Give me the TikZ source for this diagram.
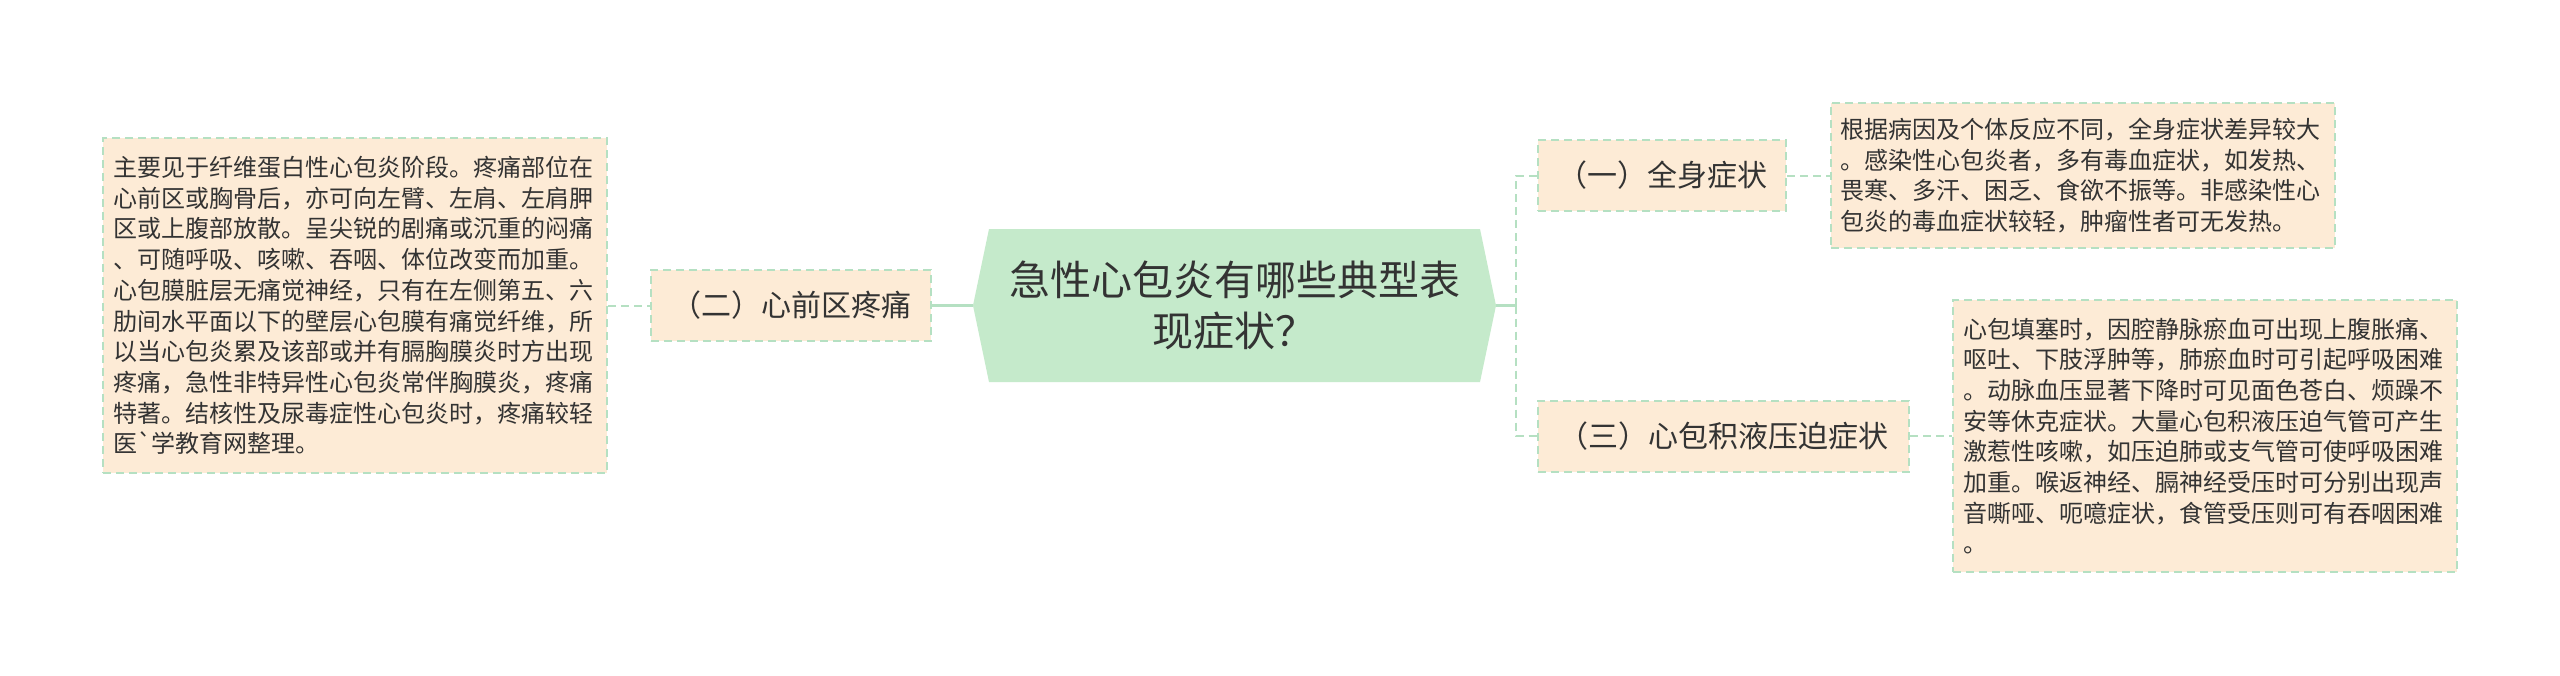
\documentclass[tikz,border=0pt]{standalone}
\usepackage{fontspec}
\setmainfont{Noto Sans CJK SC}
\definecolor{peach}{HTML}{FDEBD6}
\definecolor{mint}{HTML}{C5EACB}
\definecolor{edge}{HTML}{B5E0C2}
\definecolor{ink}{HTML}{333333}
\begin{document}
\begin{tikzpicture}[x=0.5pt,y=-0.5pt]
\tikzstyle{Title} = [font={\fontsize{20.5pt}{25.5pt}\selectfont}, text=ink, align=center, minimum width=261.5pt, minimum height=76.5pt, inner sep=0]
\tikzstyle{Branch} = [draw=edge, fill=peach, dash pattern=on 4pt off 2.5pt, line width=1pt, font={\fontsize{15pt}{18pt}\selectfont}, text=ink, inner sep=0, minimum height=35.5pt]
\tikzstyle{Leaf} = [draw=edge, fill=peach, dash pattern=on 4pt off 2.5pt, line width=1pt, font={\fontsize{12pt}{15.35pt}\selectfont}, text=ink, align=left, text width=242pt, inner sep=0, minimum width=252pt]
\tikzstyle{Link} = [draw=edge, line width=1.2pt]
\tikzstyle{DLink} = [draw=edge, line width=1pt, dash pattern=on 4pt off 2.5pt]
\fill [white] (0,0) rectangle (2560,675);
\useasboundingbox (0,0) rectangle (2560,675);
\fill [mint] (973,305.5) -- (989,229) -- (1480,229) -- (1496,305.5) -- (1480,382) -- (989,382) -- cycle;
\node [Title] (v1) at (1234.5,305.5) {急性心包炎有哪些典型表\\现症状？};
\node [Branch, minimum width=140pt] (v2) at (791,305.5) {（二）心前区疼痛};
\node [Leaf, minimum height=167.5pt] (v3) at (355,305.5) {主要见于纤维蛋白性心包炎阶段。疼痛部位在\\心前区或胸骨后，亦可向左臂、左肩、左肩胛\\区或上腹部放散。呈尖锐的剧痛或沉重的闷痛\\、可随呼吸、咳嗽、吞咽、体位改变而加重。\\心包膜脏层无痛觉神经，只有在左侧第五、六\\肋间水平面以下的壁层心包膜有痛觉纤维，所\\以当心包炎累及该部或并有膈胸膜炎时方出现\\疼痛，急性非特异性心包炎常伴胸膜炎，疼痛\\特著。结核性及尿毒症性心包炎时，疼痛较轻\\医\textasciigrave 学教育网整理。};
\node [Branch, minimum width=124pt] (v4) at (1662,175.5) {（一）全身症状};
\node [Leaf, minimum height=72.5pt] (v5) at (2082.5,175.5) {根据病因及个体反应不同，全身症状差异较大\\。感染性心包炎者，多有毒血症状，如发热、\\畏寒、多汗、困乏、食欲不振等。非感染性心\\包炎的毒血症状较轻，肿瘤性者可无发热。};
\node [Branch, minimum width=185.5pt] (v6) at (1723.5,436) {（三）心包积液压迫症状};
\node [Leaf, minimum height=136pt] (v7) at (2205,436) {心包填塞时，因腔静脉瘀血可出现上腹胀痛、\\呕吐、下肢浮肿等，肺瘀血时可引起呼吸困难\\。动脉血压显著下降时可见面色苍白、烦躁不\\安等休克症状。大量心包积液压迫气管可产生\\激惹性咳嗽，如压迫肺或支气管可使呼吸困难\\加重。喉返神经、膈神经受压时可分别出现声\\音嘶哑、呃噫症状，食管受压则可有吞咽困难\\。};
\coordinate (v8) at (1516,305.5);
\draw [DLink] (v3) -- (v2);
\draw [Link] (v2) -- (v1);
\draw [Link] (v1) -- (v8);
\draw [DLink] (v8) |- (v4);
\draw [DLink] (v8) |- (v6);
\draw [DLink] (v4) -- (v5);
\draw [DLink] (v6) -- (v7);
\end{tikzpicture}
\end{document}
